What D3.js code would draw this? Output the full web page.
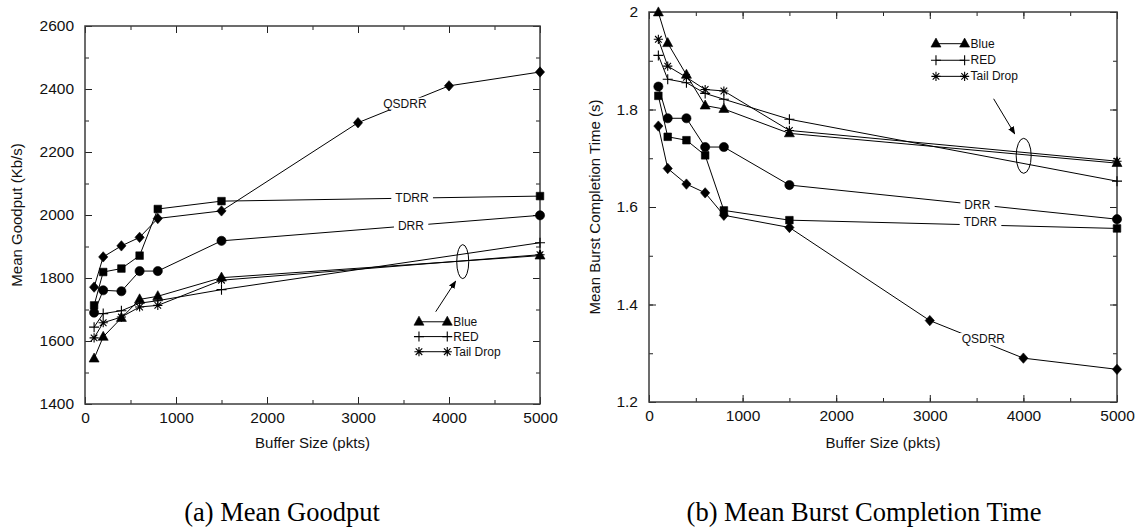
<!DOCTYPE html>
<html>
<head>
<meta charset="utf-8">
<script src="https://cdn.jsdelivr.net/npm/d3@7"></script>
<style>
  body { margin: 0; background: #fff; }
  svg { display: block; }
</style>
</head>
<body>
<svg id="fig" width="1139" height="529"></svg>
<script>
// ---- data -------------------------------------------------------------
const bufferSizes = [100, 200, 400, 600, 800, 1500, 5000];
const qsdrrBufferSizes = [100, 200, 400, 600, 800, 1500, 3000, 4000, 5000];
const bufferTicks = [0, 1000, 2000, 3000, 4000, 5000];
const goodputTicks = [1400, 1600, 1800, 2000, 2200, 2400, 2600];
const bctTicks = [1.2, 1.4, 1.6, 1.8, 2.0];

// mean goodput (Kb/s)
const goodputBlue     = [1544, 1613, 1673, 1732, 1742, 1801, 1871];
const goodputRed      = [1644, 1687, 1696, 1720, 1728, 1763, 1912];
const goodputTailDrop = [1610, 1658, 1676, 1708, 1713, 1793, 1874];
const goodputDrr      = [1690, 1761, 1758, 1822, 1822, 1918, 1999];
const goodputTdrr     = [1713, 1819, 1830, 1871, 2019, 2044, 2060];
const goodputQsdrr    = [1771, 1867, 1902, 1929, 1989, 2013, 2293, 2410, 2454];

// mean burst completion time (s)
const bctBlue     = [1.999, 1.936, 1.871, 1.808, 1.801, 1.751, 1.690];
const bctRed      = [1.911, 1.862, 1.855, 1.833, 1.821, 1.780, 1.653];
const bctTailDrop = [1.944, 1.889, 1.866, 1.841, 1.838, 1.757, 1.694];
const bctDrr      = [1.847, 1.782, 1.782, 1.723, 1.723, 1.645, 1.575];
const bctTdrr     = [1.828, 1.744, 1.737, 1.706, 1.593, 1.573, 1.556];
const bctQsdrr    = [1.766, 1.679, 1.647, 1.629, 1.583, 1.558, 1.367, 1.290, 1.267];

const legendNames = ["Blue", "RED", "Tail Drop"];
const legendMarkers = ["triangle", "plus", "star"];

// ---- helpers ------------------------------------------------------------
const SANS = "'Liberation Sans', Arial, Helvetica, sans-serif";
const SERIF = "'Liberation Serif', 'Times New Roman', serif";

function markerPath(type) {
  switch (type) {
    case "triangle": return "M0,-5.6L5,3.4L-5,3.4Z";
    case "square":   return "M-3.8,-3.8H3.8V3.8H-3.8Z";
    case "diamond":  return "M0,-5.2L4.6,0L0,5.2L-4.6,0Z";
    case "circle":   return d3.symbol(d3.symbolCircle, 66)();
    case "plus":     return "M-5,0H5M0,-5V5";
    case "star":     return "M-4.6,0H4.6M0,-4.6V4.6M-3.3,-3.3L3.3,3.3M-3.3,3.3L3.3,-3.3";
  }
}
const strokeOnly = t => t === "plus" || t === "star";

function drawMarker(g, type, px, py) {
  g.append("path")
    .attr("d", markerPath(type))
    .attr("transform", `translate(${px},${py})`)
    .attr("fill", strokeOnly(type) ? "none" : "#000")
    .attr("stroke", "#000")
    .attr("stroke-width", strokeOnly(type) ? 1.1 : 0.6);
}

function interp(xs, ys, xv) {
  for (let i = 1; i < xs.length; i++) {
    if (xv <= xs[i]) {
      const t = (xv - xs[i - 1]) / (xs[i] - xs[i - 1]);
      return ys[i - 1] + t * (ys[i] - ys[i - 1]);
    }
  }
  return ys[ys.length - 1];
}

const svg = d3.select("#fig");
const defs = svg.append("defs");
defs.append("marker")
  .attr("id", "arrowhead")
  .attr("viewBox", "0 0 10 10")
  .attr("refX", 9).attr("refY", 5)
  .attr("markerWidth", 8).attr("markerHeight", 8)
  .attr("markerUnits", "userSpaceOnUse")
  .attr("orient", "auto")
  .append("path").attr("d", "M0,1L10,5L0,9Z").attr("fill", "#000");

function drawPanel(cfg) {
  const g = svg.append("g");
  const x = d3.scaleLinear().domain([0, 5000]).range([cfg.left, cfg.right]);
  const y = d3.scaleLinear().domain(cfg.yDomain).range([cfg.bottom, cfg.top]);

  const xMinor = d3.range(0, 5001, 500);
  const yMinor = cfg.yMinor;

  const styleAxis = sel => {
    sel.select(".domain").remove();
    sel.selectAll(".tick line").attr("stroke", "#222").attr("stroke-width", 1);
    sel.attr("font-family", SANS).attr("font-size", 15.5);
    sel.selectAll(".tick text").attr("fill", "#111");
  };

  // minor ticks on all four sides (inward)
  g.append("g").attr("transform", `translate(0,${cfg.bottom})`)
    .call(d3.axisBottom(x).tickValues(xMinor).tickSize(-4).tickFormat("")).call(styleAxis);
  g.append("g").attr("transform", `translate(0,${cfg.top})`)
    .call(d3.axisTop(x).tickValues(xMinor).tickSize(-4).tickFormat("")).call(styleAxis);
  g.append("g").attr("transform", `translate(${cfg.left},0)`)
    .call(d3.axisLeft(y).tickValues(yMinor).tickSize(-4).tickFormat("")).call(styleAxis);
  g.append("g").attr("transform", `translate(${cfg.right},0)`)
    .call(d3.axisRight(y).tickValues(yMinor).tickSize(-4).tickFormat("")).call(styleAxis);

  // major ticks with labels
  g.append("g").attr("transform", `translate(0,${cfg.bottom})`)
    .call(d3.axisBottom(x).tickValues(bufferTicks).tickSize(-7).tickPadding(8).tickFormat(d3.format("d")))
    .call(styleAxis);
  g.append("g").attr("transform", `translate(0,${cfg.top})`)
    .call(d3.axisTop(x).tickValues(bufferTicks).tickSize(-7).tickFormat("")).call(styleAxis);
  g.append("g").attr("transform", `translate(${cfg.left},0)`)
    .call(d3.axisLeft(y).tickValues(cfg.yTicks).tickSize(-7).tickPadding(11).tickFormat(cfg.yFormat))
    .call(styleAxis);
  g.append("g").attr("transform", `translate(${cfg.right},0)`)
    .call(d3.axisRight(y).tickValues(cfg.yTicks).tickSize(-7).tickFormat("")).call(styleAxis);

  // frame
  g.append("rect")
    .attr("x", cfg.left).attr("y", cfg.top)
    .attr("width", cfg.right - cfg.left).attr("height", cfg.bottom - cfg.top)
    .attr("fill", "none").attr("stroke", "#3c3c3c").attr("stroke-width", 1.5);

  // axis titles
  g.append("text")
    .attr("x", (cfg.left + cfg.right) / 2).attr("y", 448)
    .attr("text-anchor", "middle")
    .attr("font-family", SANS).attr("font-size", 15).attr("fill", "#111")
    .text("Buffer Size (pkts)");
  g.append("text")
    .attr("transform", `translate(${cfg.yTitleX},${(cfg.top + cfg.bottom) / 2}) rotate(-90)`)
    .attr("text-anchor", "middle")
    .attr("font-family", SANS).attr("font-size", 15).attr("fill", "#111")
    .text(cfg.yTitle);

  // caption
  g.append("text")
    .attr("x", cfg.captionX).attr("y", 521)
    .attr("text-anchor", "middle")
    .attr("font-family", SERIF).attr("font-size", 26.5).attr("fill", "#000")
    .text(cfg.caption);

  // series lines
  const line = d3.line().x(d => x(d[0])).y(d => y(d[1]));
  cfg.series.forEach(s => {
    g.append("path")
      .datum(s.xs.map((v, i) => [v, s.ys[i]]))
      .attr("d", line)
      .attr("fill", "none").attr("stroke", "#000").attr("stroke-width", 1);
  });

  // inline series labels, on a white box that breaks the line
  cfg.labels.forEach(l => {
    const s = cfg.series.find(d => d.name === l.name);
    const px = x(l.at), py = y(interp(s.xs, s.ys, l.at)) + (l.dy || 0);
    const t = g.append("text")
      .attr("x", px).attr("y", py)
      .attr("text-anchor", "middle").attr("dominant-baseline", "central")
      .attr("font-family", SANS).attr("font-size", 12).attr("fill", "#111")
      .text(l.name);
    const bb = t.node().getBBox();
    g.insert("rect", () => t.node())
      .attr("x", bb.x - 4).attr("y", py - 6)
      .attr("width", bb.width + 8).attr("height", 12)
      .attr("fill", "#fff");
  });

  // markers
  cfg.series.forEach(s => {
    s.xs.forEach((v, i) => drawMarker(g, s.marker, x(v), y(s.ys[i])));
  });

  // grouping ellipse + arrow
  const e = cfg.ellipse;
  g.append("ellipse")
    .attr("cx", x(e.cx)).attr("cy", y(e.cy)).attr("rx", e.rx).attr("ry", e.ry)
    .attr("fill", "none").attr("stroke", "#000").attr("stroke-width", 1);
  g.append("line")
    .attr("x1", x(e.from[0])).attr("y1", y(e.from[1]))
    .attr("x2", x(e.to[0])).attr("y2", y(e.to[1]))
    .attr("stroke", "#000").attr("stroke-width", 1)
    .attr("marker-end", "url(#arrowhead)");

  // legend
  const lg = cfg.legend;
  legendNames.forEach((name, i) => {
    const ly = y(lg.rows[i]);
    const xa = x(lg.x1), xb = x(lg.x2);
    g.append("line").attr("x1", xa).attr("x2", xb).attr("y1", ly).attr("y2", ly)
      .attr("stroke", "#000").attr("stroke-width", 1);
    drawMarker(g, legendMarkers[i], xa, ly);
    drawMarker(g, legendMarkers[i], xb, ly);
    g.append("text")
      .attr("x", xb + 6).attr("y", ly)
      .attr("dominant-baseline", "central")
      .attr("font-family", SANS).attr("font-size", 12).attr("fill", "#111")
      .text(name);
  });
}

// ---- (a) mean goodput --------------------------------------------------
drawPanel({
  left: 85, right: 540, top: 26, bottom: 404,
  yDomain: [1400, 2600],
  yTicks: goodputTicks,
  yMinor: d3.range(1400, 2601, 100),
  yFormat: d3.format("d"),
  yTitle: "Mean Goodput (Kb/s)", yTitleX: 22,
  caption: "(a) Mean Goodput", captionX: 282,
  series: [
    { name: "QSDRR",     marker: "diamond",  xs: qsdrrBufferSizes, ys: goodputQsdrr },
    { name: "TDRR",      marker: "square",   xs: bufferSizes, ys: goodputTdrr },
    { name: "DRR",       marker: "circle",   xs: bufferSizes, ys: goodputDrr },
    { name: "Blue",      marker: "triangle", xs: bufferSizes, ys: goodputBlue },
    { name: "RED",       marker: "plus",     xs: bufferSizes, ys: goodputRed },
    { name: "Tail Drop", marker: "star",     xs: bufferSizes, ys: goodputTailDrop }
  ],
  labels: [
    { name: "QSDRR", at: 3516 },
    { name: "TDRR",  at: 3593 },
    { name: "DRR",   at: 3582 }
  ],
  ellipse: { cx: 4151, cy: 1852, rx: 6, ry: 17, from: [3854, 1693], to: [4073, 1790] },
  legend: { x1: 3670, x2: 3981, rows: [1661, 1614, 1566] }
});

// ---- (b) mean burst completion time ------------------------------------
drawPanel({
  left: 649, right: 1117, top: 12, bottom: 402,
  yDomain: [1.2, 2.0],
  yTicks: bctTicks,
  yMinor: d3.range(12, 21).map(d => d / 10),
  yFormat: d => d3.format("~g")(d),
  yTitle: "Mean Burst Completion Time (s)", yTitleX: 600,
  caption: "(b) Mean Burst Completion Time", captionX: 864,
  series: [
    { name: "QSDRR",     marker: "diamond",  xs: qsdrrBufferSizes, ys: bctQsdrr },
    { name: "TDRR",      marker: "square",   xs: bufferSizes, ys: bctTdrr },
    { name: "DRR",       marker: "circle",   xs: bufferSizes, ys: bctDrr },
    { name: "Blue",      marker: "triangle", xs: bufferSizes, ys: bctBlue },
    { name: "RED",       marker: "plus",     xs: bufferSizes, ys: bctRed },
    { name: "Tail Drop", marker: "star",     xs: bufferSizes, ys: bctTailDrop }
  ],
  labels: [
    { name: "DRR",   at: 3508 },
    { name: "TDRR",  at: 3540, dy: -3 },
    { name: "QSDRR", at: 3572, dy: -3 }
  ],
  ellipse: { cx: 4003, cy: 1.705, rx: 7.5, ry: 17.5, from: [3682, 1.822], to: [3907, 1.750] },
  legend: { x1: 3066, x2: 3372, rows: [1.935, 1.901, 1.868] }
});
</script>
</body>
</html>
